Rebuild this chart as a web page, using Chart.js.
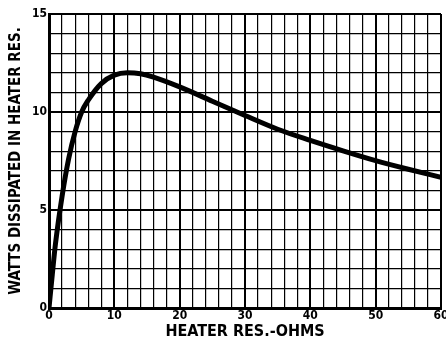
<!DOCTYPE html>
<html>
<head>
<meta charset="utf-8">
<script src="https://cdn.jsdelivr.net/npm/chart.js@4"></script>
<style>
  html, body { margin: 0; padding: 0; background: #fff; }
  #wrap { width: 446px; height: 341px; }
</style>
</head>
<body>
<div id="wrap"><canvas id="chart1"></canvas></div>
<script>
// Watts dissipated in heater resistance vs heater resistance (ohms)
const heaterOhms = [0, 0.5, 1, 2, 3, 4, 5, 6, 8, 10, 12, 14, 16, 20, 25, 30, 35, 40, 45, 50, 55, 60];
const heaterWatts = [0, 1.7, 3.3, 5.7, 7.6, 9.0, 10.0, 10.6, 11.45, 11.88, 12.0, 11.95, 11.78, 11.28, 10.55, 9.82, 9.12, 8.55, 8.02, 7.52, 7.08, 6.67];
const xTickLabels = [0, 10, 20, 30, 40, 50, 60];
const yTickLabels = [0, 5, 10, 15];

const font1 = "'Liberation Sans Narrow', 'DejaVu Sans Condensed', sans-serif";

const points1 = heaterOhms.map((x, i) => ({ x: x, y: heaterWatts[i] }));

const ctx1 = document.getElementById('chart1').getContext('2d');
const chart1 = new Chart(ctx1, {
    type: 'scatter',
    data: {
        datasets: [{
            label: 'Watts',
            data: points1,
            showLine: true,
            borderColor: '#000',
            borderWidth: 5,
            pointRadius: 0,
            cubicInterpolationMode: 'monotone',
            fill: false
        }]
    },
    options: {
        responsive: true,
        maintainAspectRatio: false,
        animation: false,
        layout: { padding: { top: 14, right: 5, left: 7, bottom: 0 } },
        plugins: {
            legend: { display: false },
            tooltip: { enabled: false }
        },
        scales: {
            x: {
                type: 'linear',
                min: 0,
                max: 60,
                afterFit: function(scale) {
                    scale.height = 33;
                    scale.paddingRight = 0;
                    scale.paddingLeft = 0;
                },
                ticks: {
                    stepSize: 2,
                    autoSkip: false,
                    maxRotation: 0,
                    padding: 1,
                    color: '#000',
                    font: { family: font1, size: 12, weight: 'bold' },
                    callback: function(v) { return xTickLabels.includes(v) ? String(v) : ''; }
                },
                grid: {
                    color: '#000',
                    drawTicks: false,
                    lineWidth: function(c) { return c.tick && c.tick.value % 10 === 0 ? 2 : 1.2; }
                },
                border: { color: '#000', width: 3 },
                title: {
                    display: true,
                    text: 'HEATER RES.-OHMS',
                    color: '#000',
                    padding: { top: 0, bottom: 0 },
                    font: { family: font1, size: 16, weight: 'bold' }
                }
            },
            y: {
                min: 0,
                max: 15,
                afterFit: function(scale) { scale.width = 42; },
                ticks: {
                    stepSize: 1,
                    autoSkip: false,
                    padding: 2,
                    color: '#000',
                    font: { family: font1, size: 12, weight: 'bold' },
                    callback: function(v) { return yTickLabels.includes(v) ? String(v) : ''; }
                },
                grid: {
                    color: '#000',
                    drawTicks: false,
                    lineWidth: function(c) { return c.tick && c.tick.value % 5 === 0 ? 2 : 1.2; }
                },
                border: { color: '#000', width: 3 },
                title: {
                    display: true,
                    text: 'WATTS DISSIPATED IN HEATER RES.',
                    color: '#000',
                    padding: { top: 0, bottom: 4 },
                    font: { family: font1, size: 15, weight: 'bold' }
                }
            }
        }
    }
});
</script>
</body>
</html>
